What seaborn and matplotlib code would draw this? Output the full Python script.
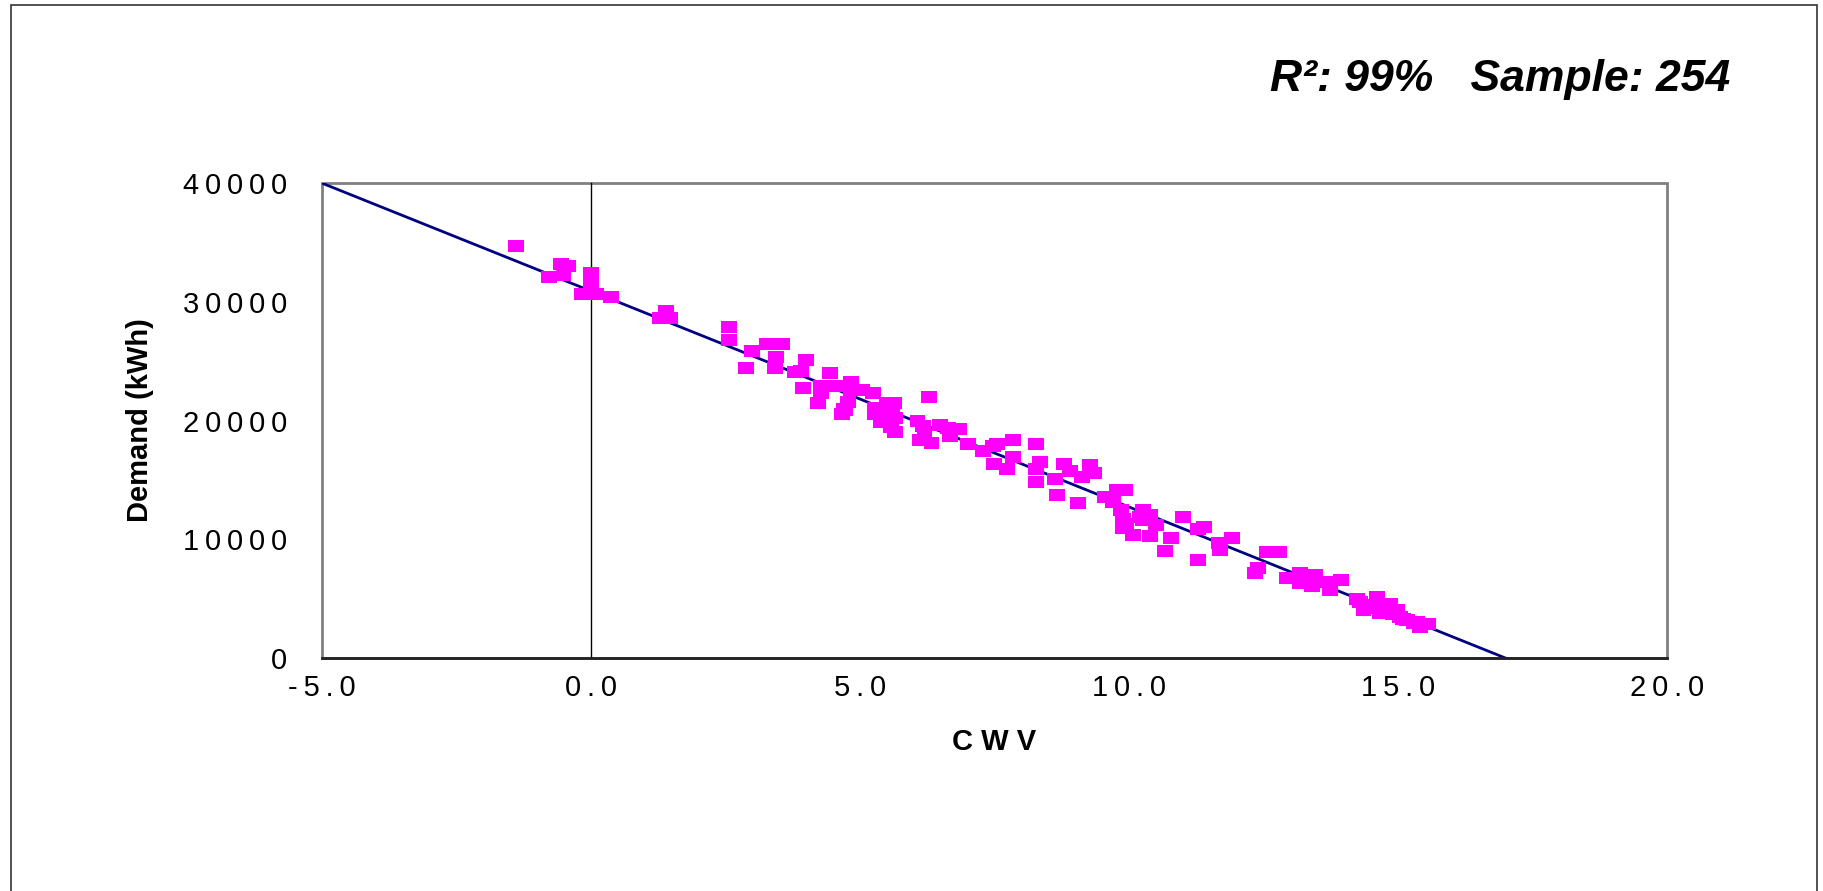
import numpy as np
import pandas as pd
import matplotlib.pyplot as plt
import seaborn as sns
from matplotlib.path import Path
from matplotlib.patches import Rectangle

# CWV readings (x) and demand in kWh (y)
cwv = [-1.39, -0.56, -0.42, -0.78, -0.51, 0.0, 0.0, -0.17, 0.1, 0.38,
       1.39, 1.28, 1.47, 2.56, 2.56, 3.0, 2.89,
       3.28, 3.55, 3.44, 3.42, 4.0, 3.79, 3.9, 3.95, 4.44, 4.27,
       4.27, 4.22, 4.57, 4.83, 4.83, 4.78, 4.72, 4.67, 5.03, 5.24,
       5.5, 5.63, 5.28, 5.28, 5.4, 5.59, 5.65, 5.57, 5.66, 6.28,
       6.07, 6.18, 6.12, 6.33, 6.49, 6.64, 6.84, 6.67, 7.0, 7.28,
       7.48, 7.49,
       7.55, 7.84, 7.84, 7.73, 8.28, 8.35, 8.28, 8.28, 8.62, 8.67,
       8.79, 8.9, 9.06, 9.12, 9.27, 9.35, 9.55, 9.71, 9.77, 9.93,
       9.86, 9.89, 9.89, 10.08, 10.27, 10.27, 10.39, 10.51, 10.39, 10.67,
       10.78, 11.01, 11.29, 11.39, 11.29, 11.68, 11.7, 11.91,
       12.56, 12.79, 12.39, 12.34, 12.93, 13.18, 13.18, 13.46, 13.41, 13.69,
       13.74, 13.95, 14.23, 14.36, 14.61, 14.51, 14.73, 14.85, 14.98, 14.67,
       15.04, 15.16, 15.35, 15.56, 15.41, 14.4, 14.85,
       14.3, 14.55, 14.9, 15.1, 15.3, 13.3, 9.95, 10.2, 5.45, 5.55, 6.2, 4.7]
demand = [34665, 33175, 33006, 32106, 32250, 32445, 31400, 30620, 30620, 30420,
          29220, 28600, 28600, 27870, 26775, 25850, 24390,
          26410, 26410, 25320, 24390, 25090, 24055, 24165, 22710, 24025, 22900,
          22290, 21450, 22900, 23265, 22565, 21580, 20880, 20520, 22565, 22340,
          21450, 21450, 21025, 20520, 19900, 20740, 20180, 19425, 19055, 22000,
          19980, 19535, 18355, 18130, 19620, 19340, 19255, 18690, 17990, 17450,
          17875, 16335,
          17990, 18355, 16900, 15940, 17990, 16500, 15915, 14845, 15045, 13750,
          16335, 15770, 13025, 15215, 16225, 15605, 13585, 13135, 14145, 14145,
          12460, 11680, 10920, 10360, 12460, 11620, 12040, 11200, 10270, 9010,
          10080, 11900, 10840, 11000, 8250, 9710, 9095, 10130,
          8950, 8950, 7550, 7130, 6760, 7130, 6290, 6990, 6060, 6425,
          5725, 6570, 4940, 4040, 5110, 4460, 4320, 4545, 4040, 3760,
          3480, 3200, 3060, 2835, 2635, 4460, 3900,
          4700, 4200, 3700, 3300, 2900, 6500, 11300, 11900, 20300, 21000, 18800, 21000]

# fitted trend line
fit_intercept = 30900
fit_slope = -1818

x_ticks = [-5, 0, 5, 10, 15, 20]
x_labels = ["-5.0", "0.0", "5.0", "10.0", "15.0", "20.0"]
y_ticks = [0, 10000, 20000, 30000, 40000]
y_labels = ["0", "10000", "20000", "30000", "40000"]


def spaced(s):
    # excel-like letter spacing
    return "\u2009".join(s)


sns.set_style("white")
plt.rcParams["font.family"] = ["Liberation Sans", "DejaVu Sans"]
plt.rcParams["text.color"] = "black"
plt.rcParams["axes.labelcolor"] = "black"
plt.rcParams["xtick.color"] = "black"
plt.rcParams["ytick.color"] = "black"

fig = plt.figure(figsize=(18.24, 8.91), dpi=100)
ax = fig.add_axes([0.1765, 0.2615, 0.7374, 0.5331])

df = pd.DataFrame({"CWV": cwv, "Demand": demand})
trend = pd.DataFrame({"CWV": [x_ticks[0], x_ticks[-1]]})
trend["Demand"] = fit_intercept + fit_slope * trend["CWV"]

sns.lineplot(data=trend, x="CWV", y="Demand", color="#000080", lw=2, ax=ax, zorder=2)

box = Path([(-1, -0.74), (1, -0.74), (1, 0.74), (-1, 0.74), (-1, -0.74)], closed=True)
sns.scatterplot(data=df, x="CWV", y="Demand", marker=box, s=132,
                color="#FF00FF", edgecolor="none", linewidth=0, ax=ax, zorder=3)

ax.set_xlim(-5, 20)
ax.set_ylim(0, 40000)

# plot area frame in grey, axis lines in black
ax.patch.set_edgecolor("#808080")
ax.patch.set_linewidth(2)
ax.spines["top"].set_visible(False)
ax.spines["right"].set_visible(False)
ax.spines["left"].set_position(("data", 0))
ax.spines["left"].set_color("black")
ax.spines["left"].set_linewidth(1)
ax.spines["bottom"].set_color("#222222")
ax.spines["bottom"].set_linewidth(2)

ax.set_xticks(x_ticks)
ax.set_xticklabels([spaced(t) for t in x_labels], fontsize=21)
ax.tick_params(axis="x", direction="out", length=6.5, width=1, color="black", pad=5)
ax.set_yticks(y_ticks)
ax.tick_params(axis="y", direction="out", length=8.5, width=1, color="black", labelleft=False)

sec = ax.secondary_yaxis("left")
sec.set_yticks(y_ticks)
sec.set_yticklabels([spaced(t) for t in y_labels], fontsize=21)
sec.tick_params(length=0, pad=25)
sec.spines["left"].set_visible(False)

ax.set_xlabel("C W V", fontsize=21, fontweight="bold", va="center")
ax.xaxis.set_label_coords(0.5, -0.177)
ax.set_ylabel("Demand (kWh)", fontsize=21, fontweight="bold", va="center", ha="center")
ax.yaxis.set_label_coords(-0.1353, 0.5)

fig.text(0.9485, 0.8982, "R²: 99%   Sample: 254", fontsize=32, fontweight="bold",
         fontstyle="italic", ha="right", va="baseline")

fig.patches.append(Rectangle((10.7 / 1824, -0.02), 1806 / 1824, 1.02 - 5 / 891,
                             transform=fig.transFigure, fill=False,
                             edgecolor="#333333", lw=1.2))

fig.savefig("out.png", dpi=100)
